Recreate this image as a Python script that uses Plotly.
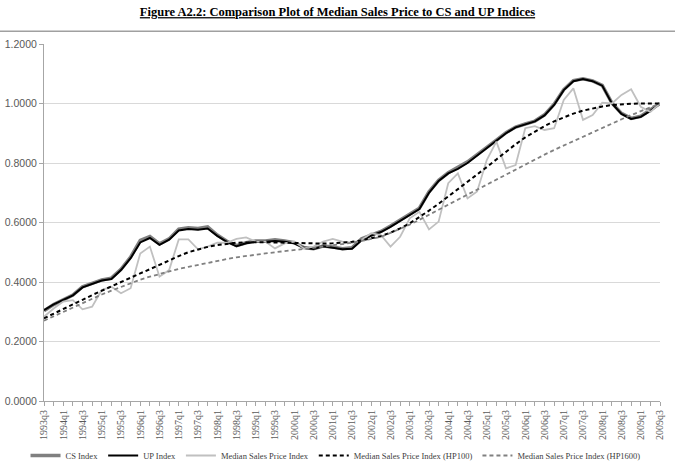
import plotly.graph_objects as go

quarters = []
for y in range(1993, 2010):
    for q in range(1, 5):
        if (y == 1993 and q < 3) or (y == 2009 and q > 3):
            continue
        quarters.append(f"{y}q{q}")

up_index = [0.305, 0.325, 0.340, 0.355, 0.382, 0.393, 0.405, 0.410, 0.440, 0.480,
            0.533, 0.548, 0.525, 0.542, 0.573, 0.578, 0.576, 0.580, 0.555, 0.535,
            0.520, 0.530, 0.535, 0.535, 0.538, 0.535, 0.530, 0.515, 0.511, 0.520,
            0.516, 0.510, 0.512, 0.540, 0.556, 0.568, 0.585, 0.605, 0.625, 0.645,
            0.700, 0.740, 0.765, 0.780, 0.800, 0.825, 0.852, 0.875, 0.900, 0.920,
            0.930, 0.940, 0.960, 0.995, 1.045, 1.075, 1.082, 1.075, 1.060, 1.000,
            0.965, 0.948, 0.955, 0.975, 1.000]

cs_index = [0.303, 0.324, 0.340, 0.356, 0.384, 0.395, 0.407, 0.413, 0.443, 0.484,
            0.540, 0.553, 0.528, 0.545, 0.578, 0.582, 0.580, 0.585, 0.558, 0.537,
            0.522, 0.532, 0.538, 0.538, 0.542, 0.538, 0.532, 0.516, 0.512, 0.521,
            0.518, 0.512, 0.515, 0.545, 0.558, 0.570, 0.588, 0.608, 0.628, 0.648,
            0.703, 0.742, 0.767, 0.784, 0.804, 0.828, 0.854, 0.877, 0.902, 0.921,
            0.931, 0.941, 0.962, 0.998, 1.047, 1.077, 1.083, 1.076, 1.061, 1.002,
            0.967, 0.950, 0.957, 0.977, 1.000]

median_sales = [0.283, 0.311, 0.334, 0.339, 0.308, 0.317, 0.373, 0.384, 0.362, 0.379,
                0.496, 0.519, 0.418, 0.440, 0.543, 0.543, 0.510, 0.519, 0.532, 0.532,
                0.545, 0.550, 0.536, 0.536, 0.513, 0.530, 0.536, 0.513, 0.519, 0.536,
                0.545, 0.536, 0.532, 0.541, 0.564, 0.558, 0.519, 0.552, 0.614, 0.636,
                0.577, 0.603, 0.732, 0.765, 0.681, 0.704, 0.810, 0.872, 0.782, 0.793,
                0.917, 0.924, 0.911, 0.917, 1.012, 1.051, 0.945, 0.961, 1.003, 1.000,
                1.029, 1.048, 0.989, 0.972, 1.000]

hp100 = [0.278, 0.293, 0.309, 0.324, 0.340, 0.356, 0.371, 0.386, 0.400, 0.415,
         0.429, 0.443, 0.458, 0.473, 0.487, 0.500, 0.510, 0.518, 0.524, 0.529,
         0.532, 0.533, 0.534, 0.534, 0.533, 0.532, 0.531, 0.530, 0.529, 0.529,
         0.530, 0.532, 0.535, 0.540, 0.546, 0.554, 0.566, 0.580, 0.597, 0.618,
         0.640, 0.663, 0.687, 0.712, 0.736, 0.760, 0.786, 0.812, 0.838, 0.863,
         0.886, 0.906, 0.924, 0.940, 0.954, 0.966, 0.976, 0.984, 0.990, 0.995,
         0.998, 0.999, 1.000, 1.000, 1.000]

hp1600 = [0.270, 0.285, 0.300, 0.315, 0.330, 0.344, 0.358, 0.371, 0.384, 0.397,
          0.408, 0.418, 0.427, 0.436, 0.444, 0.451, 0.458, 0.465, 0.471, 0.477,
          0.483, 0.488, 0.492, 0.496, 0.500, 0.503, 0.507, 0.511, 0.515, 0.519,
          0.523, 0.527, 0.532, 0.538, 0.545, 0.552, 0.565, 0.578, 0.593, 0.609,
          0.625, 0.643, 0.660, 0.677, 0.694, 0.711, 0.728, 0.745, 0.762, 0.779,
          0.796, 0.812, 0.828, 0.844, 0.859, 0.874, 0.889, 0.904, 0.919, 0.933,
          0.947, 0.961, 0.974, 0.987, 1.000]

tick_text = [q if i % 2 == 0 else "" for i, q in enumerate(quarters)]
y_ticks = [0.0, 0.2, 0.4, 0.6, 0.8, 1.0, 1.2]

fig = go.Figure()
fig.add_trace(go.Scatter(x=quarters, y=cs_index, name="CS Index", mode="lines",
                         line=dict(color="#808080", width=3.5)))
fig.add_trace(go.Scatter(x=quarters, y=up_index, name="UP Index", mode="lines",
                         line=dict(color="#000000", width=2)))
fig.add_trace(go.Scatter(x=quarters, y=median_sales, name="Median Sales Price Index", mode="lines",
                         line=dict(color="#c0c0c0", width=1.8)))
fig.add_trace(go.Scatter(x=quarters, y=hp100, name="Median Sales Price Index (HP100)", mode="lines",
                         line=dict(color="#000000", width=2, dash="4px,3px")))
fig.add_trace(go.Scatter(x=quarters, y=hp1600, name="Median Sales Price Index (HP1600)", mode="lines",
                         line=dict(color="#808080", width=1.8, dash="4px,3px")))

fig.update_layout(
    width=675, height=471,
    margin=dict(l=44, r=15, t=44, b=70, autoexpand=False),
    paper_bgcolor="white", plot_bgcolor="white",
    title=dict(text="<b><u>Figure A2.2: Comparison Plot of Median Sales Price to CS and UP Indices</u></b>",
               x=0.5, xanchor="center", y=0.975, yanchor="middle",
               font=dict(family="Liberation Serif", size=12.5, color="#000000")),
    showlegend=True,
    legend=dict(orientation="h", x=-0.03, xanchor="left", y=-0.112, yanchor="top",
                font=dict(family="Liberation Serif", size=8.5, color="#404040"),
                itemwidth=30, tracegroupgap=0, bgcolor="rgba(0,0,0,0)"),
    shapes=[dict(type="line", xref="paper", yref="paper", x0=-0.08, x1=1.03,
                 y0=1.036, y1=1.036, line=dict(color="#a0a0a0", width=1.5))],
)

fig.update_xaxes(type="category", range=[0, len(quarters) - 1],
                 tickmode="array", tickvals=quarters, ticktext=tick_text,
                 tickangle=-90, ticks="outside", ticklen=4, tickcolor="#a6a6a6",
                 showgrid=False, showline=True, linecolor="#a6a6a6", linewidth=1,
                 tickfont=dict(family="Liberation Serif", size=10, color="#595959"))
fig.update_yaxes(range=[0, 1.2], tickmode="array", tickvals=y_ticks,
                 tickformat=".4f", showgrid=True, gridcolor="#d9d9d9", gridwidth=1,
                 showline=True, linecolor="#a6a6a6", linewidth=1, zeroline=False,
                 ticks="outside", ticklen=4, tickcolor="#a6a6a6",
                 tickfont=dict(family="Liberation Sans", size=10.5, color="#595959"))

fig.write_html("out.html")
